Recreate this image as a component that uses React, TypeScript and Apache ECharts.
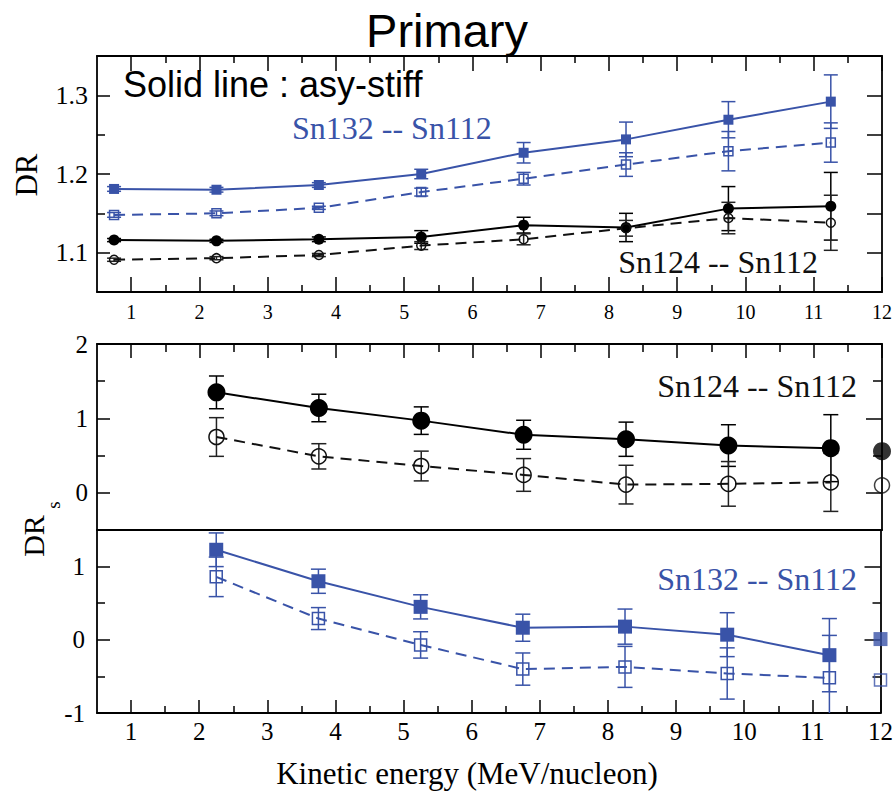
import React, { useEffect, useRef } from "react";
import * as echarts from "echarts";

// ---------------- data ----------------
// top panel: DR vs kinetic energy
const energyTop = [0.75, 2.25, 3.75, 5.25, 6.75, 8.25, 9.75, 11.25];
const drSn132Stiff = [1.181, 1.18, 1.186, 1.2, 1.227, 1.244, 1.269, 1.292];
const drSn132StiffErr = [0.003, 0.003, 0.003, 0.006, 0.013, 0.022, 0.023, 0.034];
const drSn132Soft = [1.148, 1.15, 1.157, 1.177, 1.194, 1.212, 1.229, 1.24];
const drSn132SoftErr = [0.003, 0.003, 0.002, 0.005, 0.008, 0.015, 0.025, 0.025];
const drSn124Stiff = [1.116, 1.115, 1.117, 1.12, 1.135, 1.132, 1.156, 1.159];
const drSn124StiffErr = [0.002, 0.002, 0.003, 0.008, 0.01, 0.018, 0.028, 0.043];
const drSn124Soft = [1.091, 1.093, 1.097, 1.109, 1.117, 1.131, 1.144, 1.138];
const drSn124SoftErr = [0.002, 0.002, 0.002, 0.005, 0.007, 0.01, 0.02, 0.035];

// lower panels: DRs vs kinetic energy
const energyS = [2.25, 3.75, 5.25, 6.75, 8.25, 9.75, 11.25];
const drsSn124Stiff = [1.35, 1.14, 0.97, 0.78, 0.72, 0.635, 0.6];
const drsSn124StiffErr = [0.22, 0.185, 0.185, 0.195, 0.23, 0.28, 0.45];
const drsSn124Soft = [0.75, 0.49, 0.36, 0.24, 0.11, 0.12, 0.14];
const drsSn124SoftErr = [0.26, 0.17, 0.2, 0.22, 0.26, 0.3, 0.39];
const drsSn132Stiff = [1.23, 0.8, 0.45, 0.165, 0.18, 0.07, -0.21];
const drsSn132StiffErr = [0.23, 0.165, 0.165, 0.185, 0.24, 0.3, 0.5];
const drsSn132Soft = [0.86, 0.29, -0.07, -0.4, -0.37, -0.46, -0.52];
const drsSn132SoftErr = [0.27, 0.15, 0.18, 0.22, 0.28, 0.35, 0.58];

// lone markers at the right edge
const edgeEnergy = [12];
const edgeSn124Stiff = [0.56];
const edgeSn124Soft = [0.1];
const edgeSn132Stiff = [0.01];
const edgeSn132Soft = [-0.55];

// ticks
const xMajorTicks = [1, 2, 3, 4, 5, 6, 7, 8, 9, 10, 11, 12];
const xMinorTicks = [1.5, 2.5, 3.5, 4.5, 5.5, 6.5, 7.5, 8.5, 9.5, 10.5, 11.5];
const yTopMajor = [1.1, 1.2, 1.3];
const yTopMinor = [1.15, 1.25];
const yTopRight = [1.1, 1.15, 1.2, 1.25, 1.3];
const yMidMajor = [0, 1, 2];
const yMidMinor = [0.5, 1.5];
const yBotMajor = [-1, 0, 1];
const yBotMinor = [-0.5, 0.5, 1.5];

// ---------------- styling ----------------
const BLUE = "#3953a8";
const BLACK = "#000";
const SERIF = "Liberation Serif";
const SANS = "Liberation Sans";
const FRAME_W = 1.8;

const X_MIN = 0.5;
const X_MAX = 12;
const GRIDS = [
  { left: 97, width: 785, top: 56, height: 236 },
  { left: 97, width: 785, top: 344, height: 186 },
  { left: 97, width: 785, top: 530, height: 183 },
];
const Y_RANGES = [
  [1.05, 1.35],
  [-0.5, 2],
  [-1, 1.5],
];

function xAxisDef(grid: number, position: string, ticks: number[], len: number, line: boolean, label?: any) {
  return {
    type: "value",
    gridIndex: grid,
    position,
    min: X_MIN,
    max: X_MAX,
    axisLine: { show: line, onZero: false, lineStyle: { color: BLACK, width: FRAME_W } },
    axisTick: { show: ticks.length > 0, inside: true, length: len, customValues: ticks, lineStyle: { color: BLACK, width: 1.5 } },
    axisLabel: label ? { show: true, customValues: ticks, ...label } : { show: false },
    splitLine: { show: false },
  };
}

function yAxisDef(grid: number, position: string, ticks: number[], len: number, line: boolean, label?: any) {
  return {
    type: "value",
    gridIndex: grid,
    position,
    min: Y_RANGES[grid][0],
    max: Y_RANGES[grid][1],
    axisLine: { show: line, onZero: false, lineStyle: { color: BLACK, width: FRAME_W } },
    axisTick: { show: ticks.length > 0, inside: true, length: len, customValues: ticks, lineStyle: { color: BLACK, width: 1.5 } },
    axisLabel: label ? { show: true, customValues: ticks, ...label } : { show: false },
    splitLine: { show: false },
  };
}

function curve(xs: number[], ys: number[], xi: number, yi: number, color: string, dashed: boolean, symbol: string, size: number, filled: boolean) {
  return {
    type: "line",
    xAxisIndex: xi,
    yAxisIndex: yi,
    z: 4,
    data: xs.map((x, i) => [x, ys[i]]),
    symbol,
    symbolSize: size,
    showSymbol: true,
    lineStyle: { color, width: 2, type: dashed ? [11, 7] : "solid" },
    itemStyle: filled
      ? { color, borderColor: color, borderWidth: 0 }
      : { color: "rgba(255,255,255,0)", borderColor: color, borderWidth: 1.5 },
    emphasis: { disabled: true },
    silent: true,
  };
}

function lone(xs: number[], ys: number[], xi: number, yi: number, color: string, symbol: string, size: number, filled: boolean) {
  return {
    type: "scatter",
    xAxisIndex: xi,
    yAxisIndex: yi,
    z: 5,
    clip: false,
    data: xs.map((x, i) => [x, ys[i]]),
    symbol,
    symbolSize: size,
    itemStyle: filled
      ? { color, borderColor: color, borderWidth: 0 }
      : { color: "rgba(255,255,255,0)", borderColor: color, borderWidth: 1.5 },
    emphasis: { disabled: true },
    silent: true,
  };
}

function errorBars(xs: number[], ys: number[], errs: number[], xi: number, yi: number, color: string, cap: number) {
  return {
    type: "custom",
    xAxisIndex: xi,
    yAxisIndex: yi,
    z: 3,
    silent: true,
    data: xs.map((x, i) => [x, ys[i] - errs[i], ys[i] + errs[i]]),
    renderItem: (params: any, api: any) => {
      const x = api.value(0);
      const lo = api.coord([x, api.value(1)]);
      const hi = api.coord([x, api.value(2)]);
      const cs = params.coordSys;
      const top = cs.y;
      const bottom = cs.y + cs.height;
      const y1 = Math.max(hi[1], top);
      const y2 = Math.min(lo[1], bottom);
      const style = { stroke: color, lineWidth: 1.5, fill: "none" };
      const children: any[] = [
        { type: "line", shape: { x1: lo[0], y1, x2: lo[0], y2 }, style },
      ];
      if (hi[1] >= top - 0.5)
        children.push({ type: "line", shape: { x1: hi[0] - cap / 2, y1: hi[1], x2: hi[0] + cap / 2, y2: hi[1] }, style });
      if (lo[1] <= bottom + 0.5)
        children.push({ type: "line", shape: { x1: lo[0] - cap / 2, y1: lo[1], x2: lo[0] + cap / 2, y2: lo[1] }, style });
      return { type: "group", children };
    },
  };
}

function txt(text: string, x: number, y: number, size: number, family: string, fill: string, align: string, extra: any = {}) {
  return {
    type: "text",
    x,
    y,
    silent: true,
    ...extra,
    style: {
      text,
      fontSize: size,
      fontFamily: family,
      fill,
      align,
      textAlign: align,
      verticalAlign: "middle",
      textVerticalAlign: "middle",
    },
  };
}

export default function App() {
  const ref = useRef<HTMLDivElement>(null);

  useEffect(() => {
    if (!ref.current) return;
    const chart = echarts.init(ref.current, undefined, { renderer: "svg" });

    const topXLabel = { fontFamily: SERIF, fontSize: 20, color: BLACK, margin: 10 };
    const botXLabel = { fontFamily: SERIF, fontSize: 25, color: BLACK, margin: 6 };
    const topYLabel = { fontFamily: SERIF, fontSize: 26, color: BLACK, margin: 9 };
    const midYLabel = { fontFamily: SERIF, fontSize: 25, color: BLACK, margin: 9 };
    const botYLabel = { fontFamily: SERIF, fontSize: 25, color: BLACK, margin: 12 };

    const xAxis = [
      // series axes
      xAxisDef(0, "bottom", xMajorTicks, 15, true, topXLabel), // 0
      xAxisDef(1, "top", xMajorTicks, 14, true), // 1
      xAxisDef(2, "bottom", xMajorTicks, 13, true, botXLabel), // 2
      // decoration axes
      xAxisDef(0, "bottom", xMinorTicks, 7, false),
      xAxisDef(0, "top", xMajorTicks, 15, true),
      xAxisDef(0, "top", xMinorTicks, 7, false),
      xAxisDef(1, "top", xMinorTicks, 8, false),
      xAxisDef(1, "bottom", [], 0, true),
      xAxisDef(2, "bottom", xMinorTicks, 7, false),
    ];

    const yAxis = [
      yAxisDef(0, "left", yTopMajor, 13, true, topYLabel), // 0
      yAxisDef(1, "left", yMidMajor, 13, true, midYLabel), // 1
      yAxisDef(2, "left", yBotMajor, 13, true, botYLabel), // 2
      yAxisDef(0, "left", yTopMinor, 8, false),
      yAxisDef(1, "left", yMidMinor, 8, false),
      yAxisDef(2, "left", yBotMinor, 8, false),
      yAxisDef(0, "right", yTopRight, 15, true),
      yAxisDef(1, "right", yMidMajor, 16, true),
      yAxisDef(1, "right", yMidMinor, 9, false),
      yAxisDef(2, "right", yBotMajor, 16, true),
      yAxisDef(2, "right", yBotMinor, 8, false),
    ];

    const series: any[] = [
      // top panel
      errorBars(energyTop, drSn132Stiff, drSn132StiffErr, 0, 0, BLUE, 14),
      errorBars(energyTop, drSn132Soft, drSn132SoftErr, 0, 0, BLUE, 14),
      errorBars(energyTop, drSn124Stiff, drSn124StiffErr, 0, 0, BLACK, 14),
      errorBars(energyTop, drSn124Soft, drSn124SoftErr, 0, 0, "#222", 14),
      curve(energyTop, drSn132Stiff, 0, 0, BLUE, false, "rect", 10, true),
      curve(energyTop, drSn132Soft, 0, 0, BLUE, true, "rect", 9, false),
      curve(energyTop, drSn124Stiff, 0, 0, BLACK, false, "circle", 11, true),
      curve(energyTop, drSn124Soft, 0, 0, "#111", true, "circle", 9, false),
      // middle panel
      errorBars(energyS, drsSn124Stiff, drsSn124StiffErr, 1, 1, BLACK, 15),
      errorBars(energyS, drsSn124Soft, drsSn124SoftErr, 1, 1, "#222", 15),
      curve(energyS, drsSn124Stiff, 1, 1, BLACK, false, "circle", 18, true),
      curve(energyS, drsSn124Soft, 1, 1, "#111", true, "circle", 15, false),
      lone(edgeEnergy, edgeSn124Stiff, 1, 1, BLACK, "circle", 18, true),
      lone(edgeEnergy, edgeSn124Soft, 1, 1, "#111", "circle", 15, false),
      // bottom panel
      errorBars(energyS, drsSn132Stiff, drsSn132StiffErr, 2, 2, BLUE, 15),
      errorBars(energyS, drsSn132Soft, drsSn132SoftErr, 2, 2, BLUE, 15),
      curve(energyS, drsSn132Stiff, 2, 2, BLUE, false, "rect", 14, true),
      curve(energyS, drsSn132Soft, 2, 2, BLUE, true, "rect", 12, false),
      lone(edgeEnergy, edgeSn132Stiff, 2, 2, BLUE, "rect", 14, true),
      lone(edgeEnergy, edgeSn132Soft, 2, 2, BLUE, "rect", 12, false),
    ];

    const graphic = [
      txt("Primary", 447, 30, 47, SANS, BLACK, "center"),
      txt("Solid line : asy-stiff", 123, 84, 36, SANS, BLACK, "left"),
      txt("Sn132 -- Sn112", 292, 127.5, 32, SERIF, BLUE, "left"),
      txt("Sn124 -- Sn112", 818, 262, 32, SERIF, "#111", "right"),
      txt("Sn124 -- Sn112", 857, 386, 32, SERIF, "#111", "right"),
      txt("Sn132 -- Sn112", 857, 579, 32, SERIF, BLUE, "right"),
      txt("Kinetic energy (MeV/nucleon)", 467, 773, 31, SERIF, BLACK, "center"),
      txt("DR", 26, 175, 31, SERIF, BLACK, "center", { rotation: Math.PI / 2 }),
      txt("DR", 33, 536, 30, SERIF, BLACK, "center", { rotation: Math.PI / 2 }),
      txt("s", 53, 505, 19, SERIF, BLACK, "center", { rotation: Math.PI / 2 }),
    ];

    chart.setOption({
      animation: false,
      backgroundColor: "#fff",
      grid: GRIDS.map((g) => ({ ...g, containLabel: false, show: false })),
      xAxis,
      yAxis,
      series,
      graphic,
    });

    return () => chart.dispose();
  }, []);

  return (
    <div
      ref={ref}
      style={{ position: "fixed", left: 0, top: 0, width: 896, height: 792, background: "#fff" }}
    />
  );
}
